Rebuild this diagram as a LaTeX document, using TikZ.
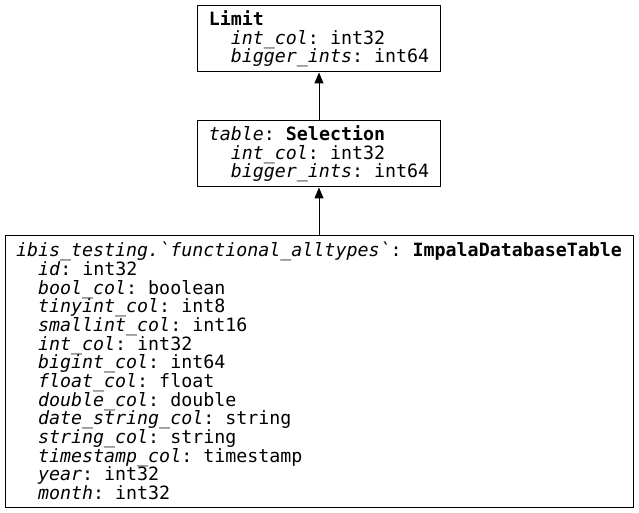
\documentclass[tikz,border=0pt]{standalone}
\usepackage{fontspec}
\setmonofont{DejaVu Sans Mono}
\usetikzlibrary{arrows.meta, positioning}
\newcommand{\ind}{\hphantom{xx}}
\newcommand{\fld}[2]{\ind\textit{#1}: #2}

\begin{document}
\begin{tikzpicture}[
  x=1pt, y=1pt,
  rel/.style={draw, line width=1pt, align=left, inner xsep=11pt, inner ysep=3pt, font=\ttfamily\fontsize{18.3}{18.65}\selectfont},
  small/.style={rel, minimum width=242pt, minimum height=66pt},
  dep/.style={-{Triangle[length=11pt,width=9pt]}, line width=1pt},
  node distance=48pt,
]
\useasboundingbox (0,0) rectangle (639,512);
\node[rel, minimum width=628pt, minimum height=272pt] (tbl) at (319,141) {%
  \textit{ibis\_testing.\textasciigrave functional\_alltypes\textasciigrave}: \textbf{ImpalaDatabaseTable}\\
  \fld{id}{int32}\\
  \fld{bool\_col}{boolean}\\
  \fld{tinyint\_col}{int8}\\
  \fld{smallint\_col}{int16}\\
  \fld{int\_col}{int32}\\
  \fld{bigint\_col}{int64}\\
  \fld{float\_col}{float}\\
  \fld{double\_col}{double}\\
  \fld{date\_string\_col}{string}\\
  \fld{string\_col}{string}\\
  \fld{timestamp\_col}{timestamp}\\
  \fld{year}{int32}\\
  \fld{month}{int32}};
\node[small, above=47pt of tbl] (sel) {%
  \textit{table}: \textbf{Selection}\\
  \fld{int\_col}{int32}\\
  \fld{bigger\_ints}{int64}};
\node[small, above=48pt of sel] (lim) {%
  \textbf{Limit}\\
  \fld{int\_col}{int32}\\
  \fld{bigger\_ints}{int64}};
% edges
\draw[dep] (tbl) -- (sel);
\draw[dep] (sel) -- (lim);
\end{tikzpicture}
\end{document}
